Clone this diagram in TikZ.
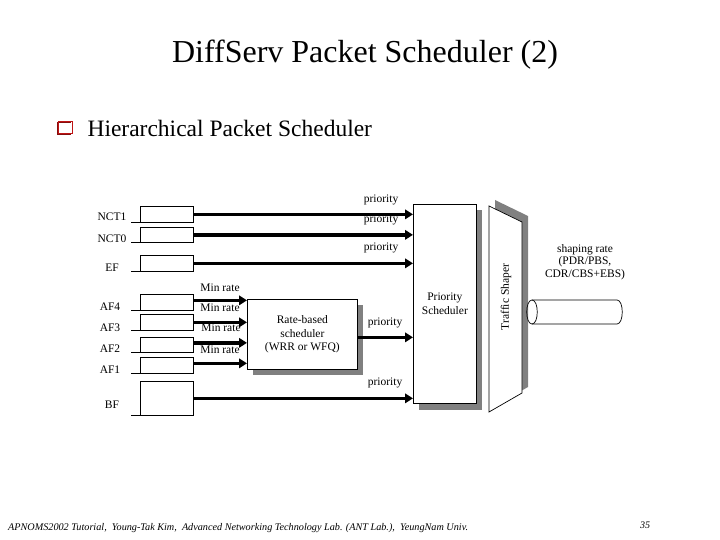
\documentclass[tikz,border=0pt]{standalone}
\usepackage{fontspec}
\setmainfont{Liberation Serif}
\usetikzlibrary{arrows.meta}
\definecolor{shadowgray}{RGB}{128,128,128}
\definecolor{bulletred}{RGB}{190,20,20}
\begin{document}
\begin{tikzpicture}[x=1pt,y=-1pt,
  queue/.style={draw,line width=0.7pt,minimum width=53pt,minimum height=16pt,inner sep=0pt,anchor=north west},
  lbl/.style={font=\fontsize{11.5}{12.5}\selectfont,inner sep=0pt},
  flow/.style={line width=3.6pt,-{Triangle[length=8pt,width=9.5pt]}},
  boxst/.style={draw,line width=0.7pt,fill=white,inner sep=0pt,align=center,font=\fontsize{11.5}{13.5}\selectfont}]
\useasboundingbox (0,0) rectangle (720,540);
% title
\node[font=\fontsize{32}{34}\selectfont] (title) at (365,55) {DiffServ Packet Scheduler (2)};
% bullet
\fill[bulletred!70!black] (57,122) rectangle (71,135);
\fill[white] (59,122.8) rectangle (72,133);
\draw[bulletred,line width=1pt] (58.5,121.5) rectangle (72,133.5);
\node[anchor=west,font=\fontsize{23.5}{26}\selectfont] (bul) at (84,128) {Hierarchical Packet Scheduler};
% queues
\node[queue] (qNCT1) at (140,206) {};
\node[queue,minimum height=15pt] (qNCT0) at (140,227) {};
\node[queue] (qEF) at (140,255) {};
\node[queue] (qAF4) at (140,294) {};
\node[queue] (qAF3) at (140,314) {};
\node[queue,minimum height=15pt] (qAF2) at (140,337) {};
\node[queue] (qAF1) at (140,357) {};
\node[queue,minimum height=34pt] (qBF) at (140,381) {};
\foreach \q in {qNCT1,qNCT0,qEF,qAF4,qAF3,qAF2,qAF1,qBF}
  \draw[line width=0.7pt] (\q.south west) -- ++(-9,0);
% queue labels
\node[lbl] (lNCT1) at (112,217) {NCT1};
\node[lbl] (lNCT0) at (112,239) {NCT0};
\node[lbl] (lEF) at (112,268) {EF};
\node[lbl] (lAF4) at (110,307) {AF4};
\node[lbl] (lAF3) at (110,328) {AF3};
\node[lbl] (lAF2) at (110,349) {AF2};
\node[lbl] (lAF1) at (110,370) {AF1};
\node[lbl] (lBF) at (112,405) {BF};
% shadows
\fill[shadowgray] (253,305) rectangle (363,375);
\fill[shadowgray] (419,210) rectangle (482,410);
\fill[shadowgray] (495,200) -- (528,216) -- (528,387) -- (495,406) -- cycle;
% schedulers
\node[boxst,minimum width=110pt,minimum height=70pt,anchor=north west] (rb) at (247,299) {Rate-based\\scheduler\\(WRR or WFQ)};
\node[boxst,minimum width=63pt,minimum height=199pt,anchor=north west] (ps) at (413,204) {Priority\\Scheduler};
\draw[line width=0.7pt,fill=white] (489,206) -- (522,222) -- (522,393) -- (489,412) -- cycle;
\node[lbl,rotate=90] (ts) at (506,297) {Traffic Shaper};
% pipe
\draw[line width=0.7pt] (532,300) -- (617,300) .. controls (624,300) and (624,324) .. (617,324) -- (532,324);
\draw[line width=0.7pt] (532,300) .. controls (525,300) and (525,324) .. (532,324) .. controls (539,324) and (539,300) .. (532,300) -- cycle;
\node[lbl,align=center] (sr) at (585,262) {shaping rate\\(PDR/PBS,\\CDR/CBS+EBS)};
% flow end points
\coordinate (rbo) at ([yshift=-3pt]rb.east);
\coordinate (a4) at ([yshift=2pt]qAF4.east);
\coordinate (a2) at ([yshift=2pt]qAF2.east);
\coordinate (a1) at ([yshift=2pt]qAF1.east);
% flows to priority scheduler
\draw[flow] (qNCT1.east) -- (ps.west |- qNCT1.east);
\draw[flow] (qNCT0.east) -- (ps.west |- qNCT0.east);
\draw[flow] (qEF.east) -- (ps.west |- qEF.east);
\draw[flow] (qBF.east) -- (ps.west |- qBF.east);
\draw[flow] (rbo) -- (ps.west |- rbo);
% flows to rate based
\draw[flow] (a4) -- (rb.west |- a4);
\draw[flow] (qAF3.east) -- (rb.west |- qAF3.east);
\draw[flow] (a2) -- (rb.west |- a2);
\draw[flow] (a1) -- (rb.west |- a1);
% flow labels
\node[lbl] (p1) at (381,200) {priority};
\node[lbl] (p2) at (381,220) {priority};
\node[lbl] (p3) at (381,248) {priority};
\node[lbl] (p4) at (385,323) {priority};
\node[lbl] (p5) at (385,383) {priority};
\node[lbl] (m1) at (220,288) {Min rate};
\node[lbl] (m2) at (220,308) {Min rate};
\node[lbl] (m3) at (221,328) {Min rate};
\node[lbl] (m4) at (220,350) {Min rate};
% footer
\node[anchor=west,font=\itshape\fontsize{10.2}{11}\selectfont,inner sep=0pt] (foot) at (8,528) {APNOMS2002 Tutorial,\ \ Young-Tak Kim,\ \ Advanced Networking Technology Lab. (ANT Lab.),\ \ YeungNam Univ.};
\node[font=\itshape\fontsize{10}{11}\selectfont,inner sep=0pt] (pg) at (645,525) {35};
\end{tikzpicture}
\end{document}
